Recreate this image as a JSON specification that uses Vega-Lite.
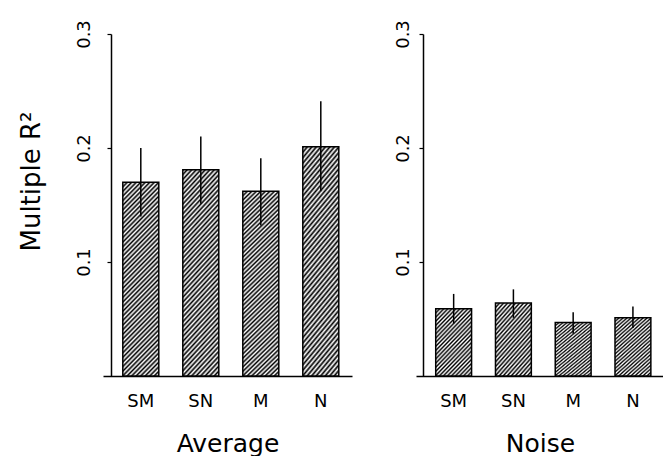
{
  "$schema": "https://vega.github.io/schema/vega-lite/v6.json",
  "padding": {"left": 18, "top": 19, "right": 0, "bottom": 0},
  "spacing": 41,
  "config": {
    "view": {"stroke": null},
    "font": "DejaVu Sans",
    "axis": {
      "grid": false,
      "domainColor": "black",
      "domainWidth": 1.5,
      "tickColor": "black",
      "tickWidth": 1.2,
      "labelColor": "black",
      "titleColor": "black",
      "labelFont": "DejaVu Sans",
      "titleFont": "DejaVu Sans",
      "titleFontWeight": "normal"
    }
  },
  "data": {
    "values": [
      {"panel": "Average", "cond": "SM", "r2": 0.170, "lo": 0.140, "hi": 0.200},
      {"panel": "Average", "cond": "SN", "r2": 0.181, "lo": 0.151, "hi": 0.210},
      {"panel": "Average", "cond": "M", "r2": 0.162, "lo": 0.132, "hi": 0.191},
      {"panel": "Average", "cond": "N", "r2": 0.201, "lo": 0.162, "hi": 0.241},
      {"panel": "Noise", "cond": "SM", "r2": 0.059, "lo": 0.046, "hi": 0.072},
      {"panel": "Noise", "cond": "SN", "r2": 0.064, "lo": 0.051, "hi": 0.076},
      {"panel": "Noise", "cond": "M", "r2": 0.047, "lo": 0.037, "hi": 0.056},
      {"panel": "Noise", "cond": "N", "r2": 0.051, "lo": 0.042, "hi": 0.061}
    ]
  },
  "hconcat": [
    {
      "width": 249,
      "height": 342,
      "transform": [{"filter": "datum.panel === 'Average'"}],
      "encoding": {
        "x": {
          "field": "cond", "type": "nominal", "sort": ["SM", "SN", "M", "N"],
          "scale": {"paddingInner": 0.4, "paddingOuter": 0.275, "align": 0.6},
          "axis": {"title": "Average", "labelAngle": 0, "ticks": false, "labelPadding": 16, "labelFontSize": 18, "titleFontSize": 25, "titlePadding": 21}
        }
      },
      "layer": [
        {
          "mark": {
            "type": "bar", "stroke": "black", "strokeWidth": 1.5,
            "fill": {
              "gradient": "linear", "x1": 0, "y1": 0, "x2": 0.2176, "y2": 1.148,
              "stops": [
                {"offset": 0, "color": "#000"}, {"offset": 0.01, "color": "#fff"}, {"offset": 0.02, "color": "#000"}, {"offset": 0.03, "color": "#fff"}, {"offset": 0.04, "color": "#000"}, {"offset": 0.05, "color": "#fff"}, {"offset": 0.06, "color": "#000"}, {"offset": 0.07, "color": "#fff"}, {"offset": 0.08, "color": "#000"}, {"offset": 0.09, "color": "#fff"},
                {"offset": 0.1, "color": "#000"}, {"offset": 0.11, "color": "#fff"}, {"offset": 0.12, "color": "#000"}, {"offset": 0.13, "color": "#fff"}, {"offset": 0.14, "color": "#000"}, {"offset": 0.15, "color": "#fff"}, {"offset": 0.16, "color": "#000"}, {"offset": 0.17, "color": "#fff"}, {"offset": 0.18, "color": "#000"}, {"offset": 0.19, "color": "#fff"},
                {"offset": 0.2, "color": "#000"}, {"offset": 0.21, "color": "#fff"}, {"offset": 0.22, "color": "#000"}, {"offset": 0.23, "color": "#fff"}, {"offset": 0.24, "color": "#000"}, {"offset": 0.25, "color": "#fff"}, {"offset": 0.26, "color": "#000"}, {"offset": 0.27, "color": "#fff"}, {"offset": 0.28, "color": "#000"}, {"offset": 0.29, "color": "#fff"},
                {"offset": 0.3, "color": "#000"}, {"offset": 0.31, "color": "#fff"}, {"offset": 0.32, "color": "#000"}, {"offset": 0.33, "color": "#fff"}, {"offset": 0.34, "color": "#000"}, {"offset": 0.35, "color": "#fff"}, {"offset": 0.36, "color": "#000"}, {"offset": 0.37, "color": "#fff"}, {"offset": 0.38, "color": "#000"}, {"offset": 0.39, "color": "#fff"},
                {"offset": 0.4, "color": "#000"}, {"offset": 0.41, "color": "#fff"}, {"offset": 0.42, "color": "#000"}, {"offset": 0.43, "color": "#fff"}, {"offset": 0.44, "color": "#000"}, {"offset": 0.45, "color": "#fff"}, {"offset": 0.46, "color": "#000"}, {"offset": 0.47, "color": "#fff"}, {"offset": 0.48, "color": "#000"}, {"offset": 0.49, "color": "#fff"},
                {"offset": 0.5, "color": "#000"}, {"offset": 0.51, "color": "#fff"}, {"offset": 0.52, "color": "#000"}, {"offset": 0.53, "color": "#fff"}, {"offset": 0.54, "color": "#000"}, {"offset": 0.55, "color": "#fff"}, {"offset": 0.56, "color": "#000"}, {"offset": 0.57, "color": "#fff"}, {"offset": 0.58, "color": "#000"}, {"offset": 0.59, "color": "#fff"},
                {"offset": 0.6, "color": "#000"}, {"offset": 0.61, "color": "#fff"}, {"offset": 0.62, "color": "#000"}, {"offset": 0.63, "color": "#fff"}, {"offset": 0.64, "color": "#000"}, {"offset": 0.65, "color": "#fff"}, {"offset": 0.66, "color": "#000"}, {"offset": 0.67, "color": "#fff"}, {"offset": 0.68, "color": "#000"}, {"offset": 0.69, "color": "#fff"},
                {"offset": 0.7, "color": "#000"}, {"offset": 0.71, "color": "#fff"}, {"offset": 0.72, "color": "#000"}, {"offset": 0.73, "color": "#fff"}, {"offset": 0.74, "color": "#000"}, {"offset": 0.75, "color": "#fff"}, {"offset": 0.76, "color": "#000"}, {"offset": 0.77, "color": "#fff"}, {"offset": 0.78, "color": "#000"}, {"offset": 0.79, "color": "#fff"},
                {"offset": 0.8, "color": "#000"}, {"offset": 0.81, "color": "#fff"}, {"offset": 0.82, "color": "#000"}, {"offset": 0.83, "color": "#fff"}, {"offset": 0.84, "color": "#000"}, {"offset": 0.85, "color": "#fff"}, {"offset": 0.86, "color": "#000"}, {"offset": 0.87, "color": "#fff"}, {"offset": 0.88, "color": "#000"}, {"offset": 0.89, "color": "#fff"},
                {"offset": 0.9, "color": "#000"}, {"offset": 0.91, "color": "#fff"}, {"offset": 0.92, "color": "#000"}, {"offset": 0.93, "color": "#fff"}, {"offset": 0.94, "color": "#000"}, {"offset": 0.95, "color": "#fff"}, {"offset": 0.96, "color": "#000"}, {"offset": 0.97, "color": "#fff"}, {"offset": 0.98, "color": "#000"}, {"offset": 0.99, "color": "#fff"},
                {"offset": 1, "color": "#000"}
              ]
            }
          },
          "encoding": {
            "y": {
              "field": "r2", "type": "quantitative",
              "scale": {"domain": [0, 0.3], "nice": false},
              "axis": {"values": [0.1, 0.2, 0.3], "format": ".1f", "offset": -8, "tickSize": 4, "labelAngle": -90, "labelAlign": "center", "labelBaseline": "alphabetic", "labelPadding": 18, "labelFontSize": 18, "title": "Multiple R²", "titleFontSize": 26, "titlePadding": 31, "titleY": 147}
            }
          }
        },
        {
          "mark": {"type": "rule", "color": "black", "strokeWidth": 1.5},
          "encoding": {
            "y": {"field": "lo", "type": "quantitative"},
            "y2": {"field": "hi"}
          }
        }
      ]
    },
    {
      "width": 248,
      "height": 342,
      "transform": [{"filter": "datum.panel === 'Noise'"}],
      "encoding": {
        "x": {
          "field": "cond", "type": "nominal", "sort": ["SM", "SN", "M", "N"],
          "scale": {"paddingInner": 0.4, "paddingOuter": 0.275, "align": 0.6},
          "axis": {"title": "Noise", "labelAngle": 0, "ticks": false, "labelPadding": 16, "labelFontSize": 18, "titleFontSize": 25, "titlePadding": 21}
        }
      },
      "layer": [
        {
          "mark": {
            "type": "bar", "stroke": "black", "strokeWidth": 1.5,
            "fill": {
              "gradient": "linear", "x1": 0, "y1": 0, "x2": 0.658, "y2": 1.189,
              "stops": [
                {"offset": 0, "color": "#000"}, {"offset": 0.02, "color": "#fff"}, {"offset": 0.04, "color": "#000"}, {"offset": 0.06, "color": "#fff"}, {"offset": 0.08, "color": "#000"},
                {"offset": 0.1, "color": "#fff"}, {"offset": 0.12, "color": "#000"}, {"offset": 0.14, "color": "#fff"}, {"offset": 0.16, "color": "#000"}, {"offset": 0.18, "color": "#fff"},
                {"offset": 0.2, "color": "#000"}, {"offset": 0.22, "color": "#fff"}, {"offset": 0.24, "color": "#000"}, {"offset": 0.26, "color": "#fff"}, {"offset": 0.28, "color": "#000"},
                {"offset": 0.3, "color": "#fff"}, {"offset": 0.32, "color": "#000"}, {"offset": 0.34, "color": "#fff"}, {"offset": 0.36, "color": "#000"}, {"offset": 0.38, "color": "#fff"},
                {"offset": 0.4, "color": "#000"}, {"offset": 0.42, "color": "#fff"}, {"offset": 0.44, "color": "#000"}, {"offset": 0.46, "color": "#fff"}, {"offset": 0.48, "color": "#000"},
                {"offset": 0.5, "color": "#fff"}, {"offset": 0.52, "color": "#000"}, {"offset": 0.54, "color": "#fff"}, {"offset": 0.56, "color": "#000"}, {"offset": 0.58, "color": "#fff"},
                {"offset": 0.6, "color": "#000"}, {"offset": 0.62, "color": "#fff"}, {"offset": 0.64, "color": "#000"}, {"offset": 0.66, "color": "#fff"}, {"offset": 0.68, "color": "#000"},
                {"offset": 0.7, "color": "#fff"}, {"offset": 0.72, "color": "#000"}, {"offset": 0.74, "color": "#fff"}, {"offset": 0.76, "color": "#000"}, {"offset": 0.78, "color": "#fff"},
                {"offset": 0.8, "color": "#000"}, {"offset": 0.82, "color": "#fff"}, {"offset": 0.84, "color": "#000"}, {"offset": 0.86, "color": "#fff"}, {"offset": 0.88, "color": "#000"},
                {"offset": 0.9, "color": "#fff"}, {"offset": 0.92, "color": "#000"}, {"offset": 0.94, "color": "#fff"}, {"offset": 0.96, "color": "#000"}, {"offset": 0.98, "color": "#fff"},
                {"offset": 1, "color": "#000"}
              ]
            }
          },
          "encoding": {
            "y": {
              "field": "r2", "type": "quantitative",
              "scale": {"domain": [0, 0.3], "nice": false},
              "axis": {"values": [0.1, 0.2, 0.3], "format": ".1f", "offset": -7, "tickSize": 4, "labelAngle": -90, "labelAlign": "center", "labelBaseline": "alphabetic", "labelPadding": 11, "labelFontSize": 18, "title": null}
            }
          }
        },
        {
          "mark": {"type": "rule", "color": "black", "strokeWidth": 1.5},
          "encoding": {
            "y": {"field": "lo", "type": "quantitative"},
            "y2": {"field": "hi"}
          }
        }
      ]
    }
  ]
}
